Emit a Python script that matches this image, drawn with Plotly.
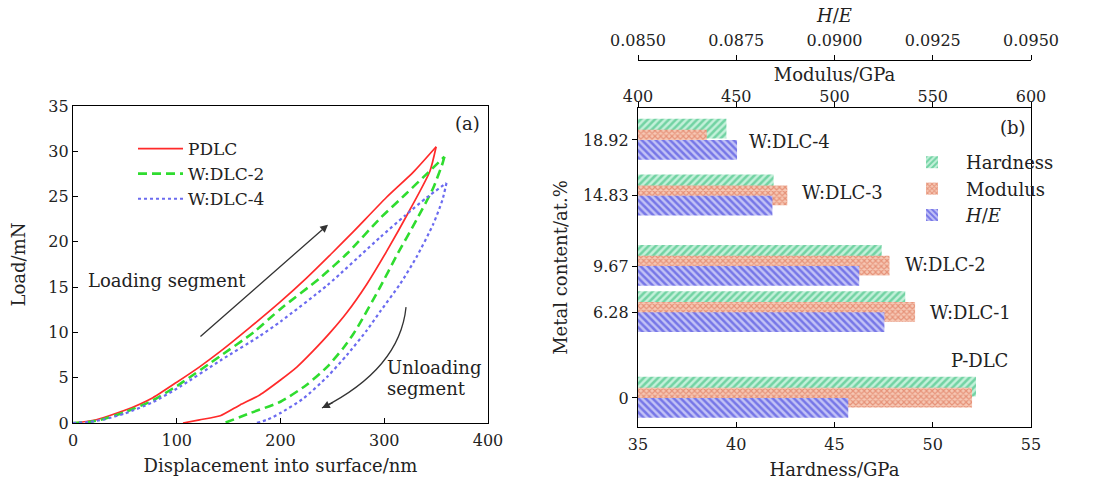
import plotly.graph_objects as go

# ---------------- data: panel (a) load-displacement ----------------
pdlc_load_x = [0, 20, 50, 77, 100, 122, 142, 170, 200, 225, 250, 270, 302, 328, 350]
pdlc_load_y = [0, 0.3, 1.4, 2.8, 4.5, 6.2, 7.9, 10.5, 13.4, 16.0, 18.8, 21.1, 24.9, 27.7, 30.5]
pdlc_unload_x = [350, 344, 325, 302, 283, 264, 248, 231, 216, 200, 180, 161, 142, 122, 106]
pdlc_unload_y = [30.5, 27.8, 23.6, 18.9, 15.3, 12.2, 10.0, 7.9, 6.2, 4.75, 3.1, 2.0, 0.8, 0.35, 0]

w2_load_x = [0, 15, 30, 50, 77, 103, 142, 174, 200, 238, 265, 296, 320, 340, 358]
w2_load_y = [0, 0.1, 0.45, 1.2, 2.5, 4.3, 7.4, 10.0, 12.6, 16.0, 18.8, 22.6, 25.2, 27.4, 29.4]
w2_unload_x = [358, 356, 347, 331, 312, 296, 277, 270, 260, 245, 225, 200, 171, 146]
w2_unload_y = [29.4, 28.6, 25.9, 22.4, 18.5, 15.0, 11.1, 9.8, 8.2, 6.2, 4.2, 2.35, 1.1, 0]

w4_load_x = [0, 15, 30, 50, 77, 103, 142, 180, 200, 245, 296, 320, 341, 360]
w4_load_y = [0, 0.1, 0.4, 1.05, 2.3, 4.0, 6.9, 9.6, 11.2, 15.2, 20.5, 22.9, 24.9, 26.5]
w4_unload_x = [360, 356, 347, 331, 315, 296, 283, 264, 245, 222, 200, 188, 177]
w4_unload_y = [26.5, 24.6, 21.9, 18.3, 15.3, 12.3, 10.2, 7.5, 5.1, 2.7, 1.1, 0.4, 0]

# ---------------- data: panel (b) mechanical properties ----------------
metal_content = [0, 6.28, 9.67, 14.83, 18.92]
metal_labels = ["0", "6.28", "9.67", "14.83", "18.92"]
sample_names = ["P-DLC", "W:DLC-1", "W:DLC-2", "W:DLC-3", "W:DLC-4"]
hardness = [52.2, 48.6, 47.4, 41.9, 39.5]          # GPa
modulus = [570, 541, 528, 476, 435]                 # GPa
h_over_e = [0.09035, 0.09127, 0.09063, 0.08842, 0.08752]
he_ticks = [0.085, 0.0875, 0.09, 0.0925, 0.095]
he_ticktext = ["0.0850", "0.0875", "0.0900", "0.0925", "0.0950"]

FONT = "DejaVu Serif"
W, H = 1094, 485
TXT = 18

fig = go.Figure()

# ---- panel (a) curves ----
curves = [
    ("PDLC", pdlc_load_x, pdlc_load_y, pdlc_unload_x, pdlc_unload_y,
     dict(color="#ff2a2a", width=1.7, dash="solid", shape="spline", smoothing=0.6)),
    ("W:DLC-2", w2_load_x, w2_load_y, w2_unload_x, w2_unload_y,
     dict(color="#2fdc2f", width=2.6, dash="9px,5px", shape="spline", smoothing=0.6)),
    ("W:DLC-4", w4_load_x, w4_load_y, w4_unload_x, w4_unload_y,
     dict(color="#6b6bf0", width=2.2, dash="dot", shape="spline", smoothing=0.6)),
]
for name, lx, ly, ux, uy, line in curves:
    fig.add_trace(go.Scatter(x=lx, y=ly, mode="lines", name=name, line=line,
                             legendgroup=name, xaxis="x", yaxis="y", legend="legend"))
    fig.add_trace(go.Scatter(x=ux, y=uy, mode="lines", name=name, line=line,
                             legendgroup=name, showlegend=False,
                             xaxis="x", yaxis="y", legend="legend"))

# ---- panel (b) bars ----
fig.add_trace(go.Bar(
    y=metal_content, x=hardness, orientation="h", name="Hardness",
    xaxis="x2", yaxis="y2", width=1.45, offset=0.1, legend="legend2",
    marker=dict(color="#1fb56c", line=dict(width=0),
                pattern=dict(shape="/", fgcolor="#1fb56c", bgcolor="#c4f0da",
                             size=5, solidity=0.5))))
fig.add_trace(go.Bar(
    y=metal_content, x=modulus, orientation="h", name="Modulus",
    xaxis="x3", yaxis="y2", width=1.45, offset=-0.7, legend="legend2",
    marker=dict(color="#d8603f", line=dict(width=0),
                pattern=dict(shape="x", fgcolor="#d65c3c", bgcolor="#f6c8b5",
                             size=4, solidity=0.5))))
fig.add_trace(go.Bar(
    y=metal_content, x=h_over_e, orientation="h", name="<i>H</i>/<i>E</i>",
    xaxis="x4", yaxis="y2", width=1.45, offset=-1.45, legend="legend2",
    marker=dict(color="#2a2ad8", line=dict(width=0),
                pattern=dict(shape="\\", fgcolor="#2a2ad8", bgcolor="#c2c2f6",
                             size=5, solidity=0.5))))

axis_common = dict(showline=True, linecolor="black", linewidth=1.2,
                   showgrid=False, zeroline=False, automargin=False,
                   tickfont=dict(family=FONT, size=16, color="#222"),
                   ticklen=5, tickcolor="black")
title_font = dict(family=FONT, size=TXT, color="#222")


def px_x(p):
    return p / W


def px_y(p):
    return 1 - p / H


fig.update_layout(
    width=W, height=H, autosize=False,
    margin=dict(l=0, r=0, t=0, b=0),
    paper_bgcolor="white", plot_bgcolor="white",
    font=dict(family=FONT, size=TXT, color="#222"),
    barmode="overlay",
    xaxis=dict(axis_common, domain=[px_x(73), px_x(488)], range=[0, 400], dtick=100,
               ticks="inside", mirror=True, anchor="y", ticklabelstandoff=3,
               title=dict(text="Displacement into surface/nm", standoff=10, font=title_font)),
    yaxis=dict(axis_common, domain=[px_y(423), px_y(106)], range=[0, 35], dtick=5,
               ticks="inside", mirror=True, anchor="x",
               title=dict(text="Load/mN", standoff=18, font=title_font)),
    xaxis2=dict(axis_common, domain=[px_x(638), px_x(1031)], range=[35, 55], dtick=5,
                ticks="inside", mirror=True, anchor="y2", ticklabelstandoff=3,
                title=dict(text="Hardness/GPa", standoff=10, font=title_font)),
    yaxis2=dict(axis_common, domain=[px_y(427), px_y(108)], range=[-2.13, 21.26],
                tickvals=metal_content, ticktext=metal_labels,
                ticks="outside", mirror=True, anchor="x2",
                title=dict(text="Metal content/at.%", standoff=10, font=title_font)),
    xaxis3=dict(axis_common, range=[400, 600], dtick=50, overlaying="x2", side="top",
                anchor="y2", ticks="outside", ticklabelstandoff=-6,
                title=dict(text="Modulus/GPa", standoff=0, font=title_font)),
    xaxis4=dict(axis_common, range=[0.085, 0.095], tickvals=he_ticks, ticktext=he_ticktext,
                overlaying="x2", side="top", anchor="free", position=px_y(60),
                ticks="outside", ticklabelstandoff=3,
                title=dict(text="<i>H</i>/<i>E</i>", standoff=2, font=title_font)),
    legend=dict(x=px_x(133), y=px_y(131), xanchor="left", yanchor="top",
                bgcolor="rgba(0,0,0,0)", font=dict(family=FONT, size=17),
                tracegroupgap=0, itemwidth=45),
    legend2=dict(x=px_x(898), y=px_y(144), xanchor="left", yanchor="top",
                 bgcolor="rgba(0,0,0,0)", font=dict(family=FONT, size=18),
                 tracegroupgap=0, itemwidth=58),
    showlegend=True,
)

# ---- annotations panel (a) ----
ann = []


def txt(text, x, y, xanchor="center"):
    return dict(text=text, x=px_x(x), y=px_y(y), xref="paper", yref="paper",
                xanchor=xanchor, yanchor="middle", showarrow=False,
                font=dict(family=FONT, size=TXT, color="#222"))


ann.append(txt("(a)", 467, 123))
ann.append(txt("Loading segment", 167, 280))
ann.append(txt("Unloading", 385, 367, "left"))
ann.append(txt("segment", 385, 388, "left"))
# loading arrow
ann.append(dict(x=245.8, y=21.9, ax=121.4, ay=9.4, xref="x", yref="y", axref="x", ayref="y",
                text="", showarrow=True, arrowhead=2, arrowsize=1.2, arrowwidth=1.3,
                arrowcolor="#333"))
# unloading arrow head
ann.append(dict(x=240, y=1.66, ax=252, ay=2.35, xref="x", yref="y", axref="x", ayref="y",
                text="", showarrow=True, arrowhead=2, arrowsize=1.2, arrowwidth=1.3,
                arrowcolor="#333"))

# ---- annotations panel (b) ----
ann.append(txt("(b)", 1013, 128))
label_pos = {"W:DLC-4": (40.55, 18.77), "W:DLC-3": (43.24, 15.03), "W:DLC-2": (48.49, 9.75),
             "W:DLC-1": (49.76, 6.23), "P-DLC": (50.83, 2.71)}
for nm in sample_names:
    lx, ly = label_pos[nm]
    ann.append(dict(text=nm, x=lx, y=ly, xref="x2", yref="y2", xanchor="left",
                    yanchor="middle", showarrow=False,
                    font=dict(family=FONT, size=TXT, color="#222")))
fig.update_layout(annotations=ann)

# curved unloading arrow body
fig.add_shape(type="path", xref="x", yref="y",
              path="M 321,12.8 Q 315,6 240,1.66",
              line=dict(color="#333", width=1.3))

fig.write_html("out.html")
